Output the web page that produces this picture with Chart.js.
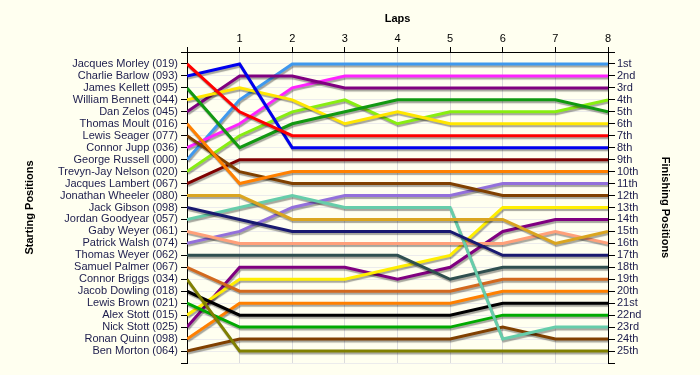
<!DOCTYPE html>
<html>
<head>
<meta charset="utf-8">
<script src="https://cdn.jsdelivr.net/npm/chart.js@4.4.0/dist/chart.umd.min.js"></script>
<style>
  body { margin: 0; background: #FFFFF0; }
  #wrap { width: 700px; height: 375px; }
</style>
</head>
<body>
<div id="wrap"><canvas id="lap-chart"></canvas></div>
<script>
// lap numbers (0 = grid)
const laps = [0, 1, 2, 3, 4, 5, 6, 7, 8];

// drivers in starting order
const drivers = [
  "Jacques Morley (019)", "Charlie Barlow (093)", "James Kellett (095)", "William Bennett (044)",
  "Dan Zelos (045)", "Thomas Moult (016)", "Lewis Seager (077)", "Connor Jupp (036)",
  "George Russell (000)", "Trevyn-Jay Nelson (020)", "Jacques Lambert (067)", "Jonathan Wheeler (080)",
  "Jack Gibson (098)", "Jordan Goodyear (057)", "Gaby Weyer (061)", "Patrick Walsh (074)",
  "Thomas Weyer (062)", "Samuel Palmer (067)", "Connor Briggs (034)", "Jacob Dowling (018)",
  "Lewis Brown (021)", "Alex Stott (015)", "Nick Stott (025)", "Ronan Quinn (098)", "Ben Morton (064)"
];

const lineColors = [
  "#FF0000", "#0000EE", "#119911", "#FFE600",
  "#800080", "#FF8000", "#804000", "#FF22FF",
  "#3F99EE", "#88EE11", "#800000", "#DAA520",
  "#191970", "#66CDAA", "#FFA07A", "#9370DB",
  "#2F4F4F", "#D2691E", "#808000", "#000000",
  "#00AA00", "#FFEE00", "#800080", "#FF8000", "#804000"
];

// position of each driver at laps 0..8
const positions = [
  [1, 5, 7, 7, 7, 7, 7, 7, 7],
  [2, 1, 8, 8, 8, 8, 8, 8, 8],
  [3, 8, 6, 5, 4, 4, 4, 4, 5],
  [4, 3, 4, 6, 5, 6, 6, 6, 6],
  [5, 2, 2, 3, 3, 3, 3, 3, 3],
  [6, 11, 10, 10, 10, 10, 10, 10, 10],
  [7, 10, 11, 11, 11, 11, 12, 12, 12],
  [8, 6, 3, 2, 2, 2, 2, 2, 2],
  [9, 4, 1, 1, 1, 1, 1, 1, 1],
  [10, 7, 5, 4, 6, 5, 5, 5, 4],
  [11, 9, 9, 9, 9, 9, 9, 9, 9],
  [12, 12, 14, 14, 14, 14, 14, 16, 15],
  [13, 14, 15, 15, 15, 15, 17, 17, 17],
  [14, 13, 12, 13, 13, 13, 24, 23, 23],
  [15, 16, 16, 16, 16, 16, 16, 15, 16],
  [16, 15, 13, 12, 12, 12, 11, 11, 11],
  [17, 17, 17, 17, 17, 19, 18, 18, 18],
  [18, 20, 20, 20, 20, 20, 19, 19, 19],
  [19, 25, 25, 25, 25, 25, 25, 25, 25],
  [20, 22, 22, 22, 22, 22, 21, 21, 21],
  [21, 23, 23, 23, 23, 23, 22, 22, 22],
  [22, 19, 19, 19, 18, 17, 13, 13, 13],
  [23, 18, 18, 18, 19, 18, 15, 14, 14],
  [24, 21, 21, 21, 21, 21, 20, 20, 20],
  [25, 24, 24, 24, 24, 24, 23, 24, 24]
];

const finishLabels = [
  "1st", "2nd", "3rd", "4th", "5th", "6th", "7th", "8th", "9th", "10th",
  "11th", "12th", "13th", "14th", "15th", "16th", "17th", "18th", "19th", "20th",
  "21st", "22nd", "23rd", "24th", "25th"
];

const datasets = [];
for (let i = 0; i < drivers.length; i++) {
  datasets.push({
    label: drivers[i],
    data: laps.map((l, j) => ({ x: l, y: positions[i][j] })),
    borderColor: lineColors[i],
    backgroundColor: lineColors[i],
    borderWidth: 3,
    pointRadius: 0,
    tension: 0,
    fill: false
  });
}

// grey drop shadow under the lines
const shadowPlugin = {
  id: 'shadow',
  beforeDatasetsDraw(chart) {
    const ctx = chart.ctx;
    ctx.save();
    ctx.shadowColor = 'rgba(0,0,0,0.35)';
    ctx.shadowOffsetX = 1;
    ctx.shadowOffsetY = 2;
    ctx.shadowBlur = 1;
  },
  afterDatasetsDraw(chart) {
    chart.ctx.restore();
  }
};

const labelFont = { family: "'Liberation Sans', Arial, sans-serif", size: 11 };
const titleFont = { family: "'Liberation Sans', Arial, sans-serif", size: 11, weight: 'bold' };

new Chart(document.getElementById("lap-chart"), {
  type: 'line',
  data: { datasets: datasets },
  plugins: [shadowPlugin],
  options: {
    responsive: true,
    maintainAspectRatio: false,
    animation: false,
    layout: { padding: { bottom: 12 } },
    plugins: {
      legend: { display: false },
      tooltip: { enabled: false }
    },
    scales: {
      x: {
        type: 'linear',
        position: 'top',
        min: 0,
        max: 8,
        afterFit: s => { s.height = 52; },
        ticks: {
          stepSize: 1,
          padding: 1,
          color: '#000',
          font: labelFont,
          callback: v => (v === 0 ? '' : v)
        },
        grid: { color: '#dcdcdc', tickColor: '#000', tickLength: 5 },
        border: { color: '#000', width: 1 },
        title: { display: true, text: 'Laps', color: '#000', font: titleFont, padding: { top: 12, bottom: 0 } }
      },
      y: {
        type: 'linear',
        position: 'left',
        reverse: true,
        min: 0,
        max: 26,
        afterFit: s => { s.width = 187; },
        ticks: {
          stepSize: 1,
          autoSkip: false,
          padding: 3,
          color: '#1c1c4c',
          font: labelFont,
          callback: v => (v >= 1 && v <= 25 ? drivers[v - 1] : '')
        },
        grid: { color: '#ececec', tickColor: '#000', tickLength: 6 },
        border: { color: '#000', width: 1 },
        title: { display: true, text: 'Starting Positions', color: '#000', font: titleFont, padding: { top: 23, bottom: 0 } }
      },
      y2: {
        type: 'linear',
        position: 'right',
        reverse: true,
        min: 0,
        max: 26,
        afterFit: s => { s.width = 92; },
        ticks: {
          stepSize: 1,
          autoSkip: false,
          padding: 2,
          color: '#1c1c4c',
          font: labelFont,
          callback: v => (v >= 1 && v <= 25 ? finishLabels[v - 1] : '')
        },
        grid: { drawOnChartArea: false, tickColor: '#000', tickLength: 7 },
        border: { color: '#000', width: 1 },
        title: { display: true, text: 'Finishing Positions', color: '#000', font: titleFont, padding: { top: 28, bottom: 0 } }
      }
    }
  }
});
</script>
</body>
</html>
